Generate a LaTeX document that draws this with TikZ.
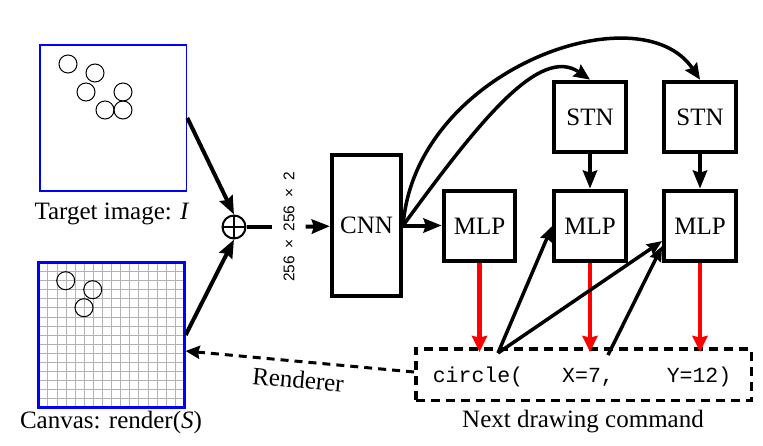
\documentclass[tikz,border=0pt]{standalone}
\usepackage{fontspec}
\setmainfont{Liberation Serif}
\setmonofont{Liberation Mono}
\newfontfamily\lsans{Liberation Sans}
\usetikzlibrary{arrows.meta,calc}
\begin{document}
\begin{tikzpicture}[x=1pt,y=-1pt,
  box/.style={draw,line width=4.2pt,minimum width=71.5pt,minimum height=70.5pt,inner sep=0pt,font=\fontsize{25}{28}\selectfont},
  lbl/.style={font=\fontsize{25}{28}\selectfont,inner sep=0pt,anchor=base},
  cmdtext/.style={font=\ttfamily\fontsize{21.5}{24}\selectfont,inner sep=0pt,anchor=base},
  thickarrow/.style={line width=4pt,-{Stealth[inset=2pt,length=18pt,width=14pt]}},
  curvearrow/.style={line width=3.5pt,-{Stealth[inset=2pt,length=16pt,width=14pt]}},
  redarrow/.style={draw=red,line width=4.8pt,-{Stealth[inset=1.5pt,length=16pt,width=15pt]}},
  cmdarrow/.style={line width=3.5pt,-{Stealth[inset=1.5pt,length=15pt,width=12pt]}},
  renderarrow/.style={line width=3pt,dash pattern=on 8pt off 6pt,-{Stealth[inset=1.5pt,length=14pt,width=13pt]}},
  stroke/.style={line width=1pt}
]
\useasboundingbox (0,0) rectangle (763,445);

% target image
\node[draw=blue,line width=1.8pt,minimum width=146.8pt,minimum height=146.5pt,inner sep=0pt] (target) at (113,117.85) {};
\foreach \cx/\cy in {68/64,95/73,86/92,123/92,105/110,123/110}
  \draw[stroke] (\cx,\cy) circle (9);
\node[lbl] (tlabel) at (112,219) {Target image: \textit{I}};

% canvas
\foreach \i in {1,...,15} {
  \draw[gray!60,line width=0.8pt] (38.7+\i*9.1,262.35) -- (38.7+\i*9.1,407.65);
  \draw[gray!60,line width=0.8pt] (38.7,262.35+\i*9.1) -- (184.3,262.35+\i*9.1);
}
\node[draw=blue,line width=3pt,minimum size=145.3pt,inner sep=0pt] (canvas) at (111.5,335) {};
\foreach \cx/\cy in {65.7/280.7,92.7/289.7,84/307.7}
  \draw[stroke] (\cx,\cy) circle (9);
\node[lbl] (clabel) at (111,428) {Canvas: render(\textit{S})};

% oplus
\node[circle,draw,line width=2pt,minimum size=23pt,inner sep=0pt,
  path picture={\draw[line width=2pt] (path picture bounding box.north) -- (path picture bounding box.south)
  (path picture bounding box.west) -- (path picture bounding box.east);}] (plus) at (234,227) {};
\draw[thickarrow] (target.east) -- (plus.north);
\draw[thickarrow] (canvas.east) -- (plus.south);

% size label
\node[rotate=90,inner xsep=0pt,inner ysep=11pt,font=\lsans\fontsize{15.5}{18}\selectfont] (size) at (289,227)
  {256\hspace{0.5em}×\hspace{0.5em}256\hspace{0.5em}×\hspace{0.5em}2};

% network boxes
\node[box,minimum width=69pt,minimum height=141pt] (cnn) at (366.5,225.5) {CNN};
\node[box] (mlp1) at (479.5,226) {MLP};
\node[box] (mlp2) at (590,226) {MLP};
\node[box] (mlp3) at (700,226) {MLP};
\node[box] (stn1) at (590,117) {STN};
\node[box] (stn2) at (700,117) {STN};

\draw[line width=4pt] (plus) -- (size);
\draw[thickarrow] (size) -- (cnn);
\draw[thickarrow] (cnn.east) -- (cnn.east -| mlp1.west);
\draw[curvearrow] (cnn.east) .. controls (480,120) and (540,45) .. (stn1.north);
\draw[curvearrow] (cnn.east) .. controls (415,70) and (640,-10) .. (stn2.north);
\draw[thickarrow] (stn1) -- (mlp2);
\draw[thickarrow] (stn2) -- (mlp3);

% command
\node[draw,line width=3.5pt,dash pattern=on 9pt off 6pt,minimum width=335.5pt,minimum height=51.5pt,inner sep=0pt] (cmd) at (583.5,374.5) {};
\node[cmdtext] (t1) at (478,382) {circle(};
\node[cmdtext] (t2) at (588,382) {X=7,};
\node[cmdtext] (t3) at (699,382) {Y=12)};
\node[lbl] (cmdlabel) at (583,427) {Next drawing command};

\draw[redarrow] (mlp1.south) -- ($(mlp1.south |- cmd.north)+(0,5)$);
\draw[redarrow] (mlp2.south) -- ($(mlp2.south |- cmd.north)+(0,5)$);
\draw[redarrow] (mlp3.south) -- ($(mlp3.south |- cmd.north)+(0,5)$);

\coordinate (c1) at (498,353);
\coordinate (c2) at (608,355);
\draw[cmdarrow] (c1) -- (mlp2.west);
\draw[cmdarrow] (c1) -- ($(mlp3.west)+(0,15)$);
\draw[cmdarrow] (c2) -- ($(mlp3.west)+(0,20)$);

% renderer
\draw[renderarrow] ($(cmd.west)+(0,-2.5)$) -- node[sloped,below=8pt,font=\fontsize{25}{28}\selectfont,inner sep=0pt] (rlabel) {Renderer} ($(canvas.east)+(0,16)$);
\end{tikzpicture}
\end{document}
